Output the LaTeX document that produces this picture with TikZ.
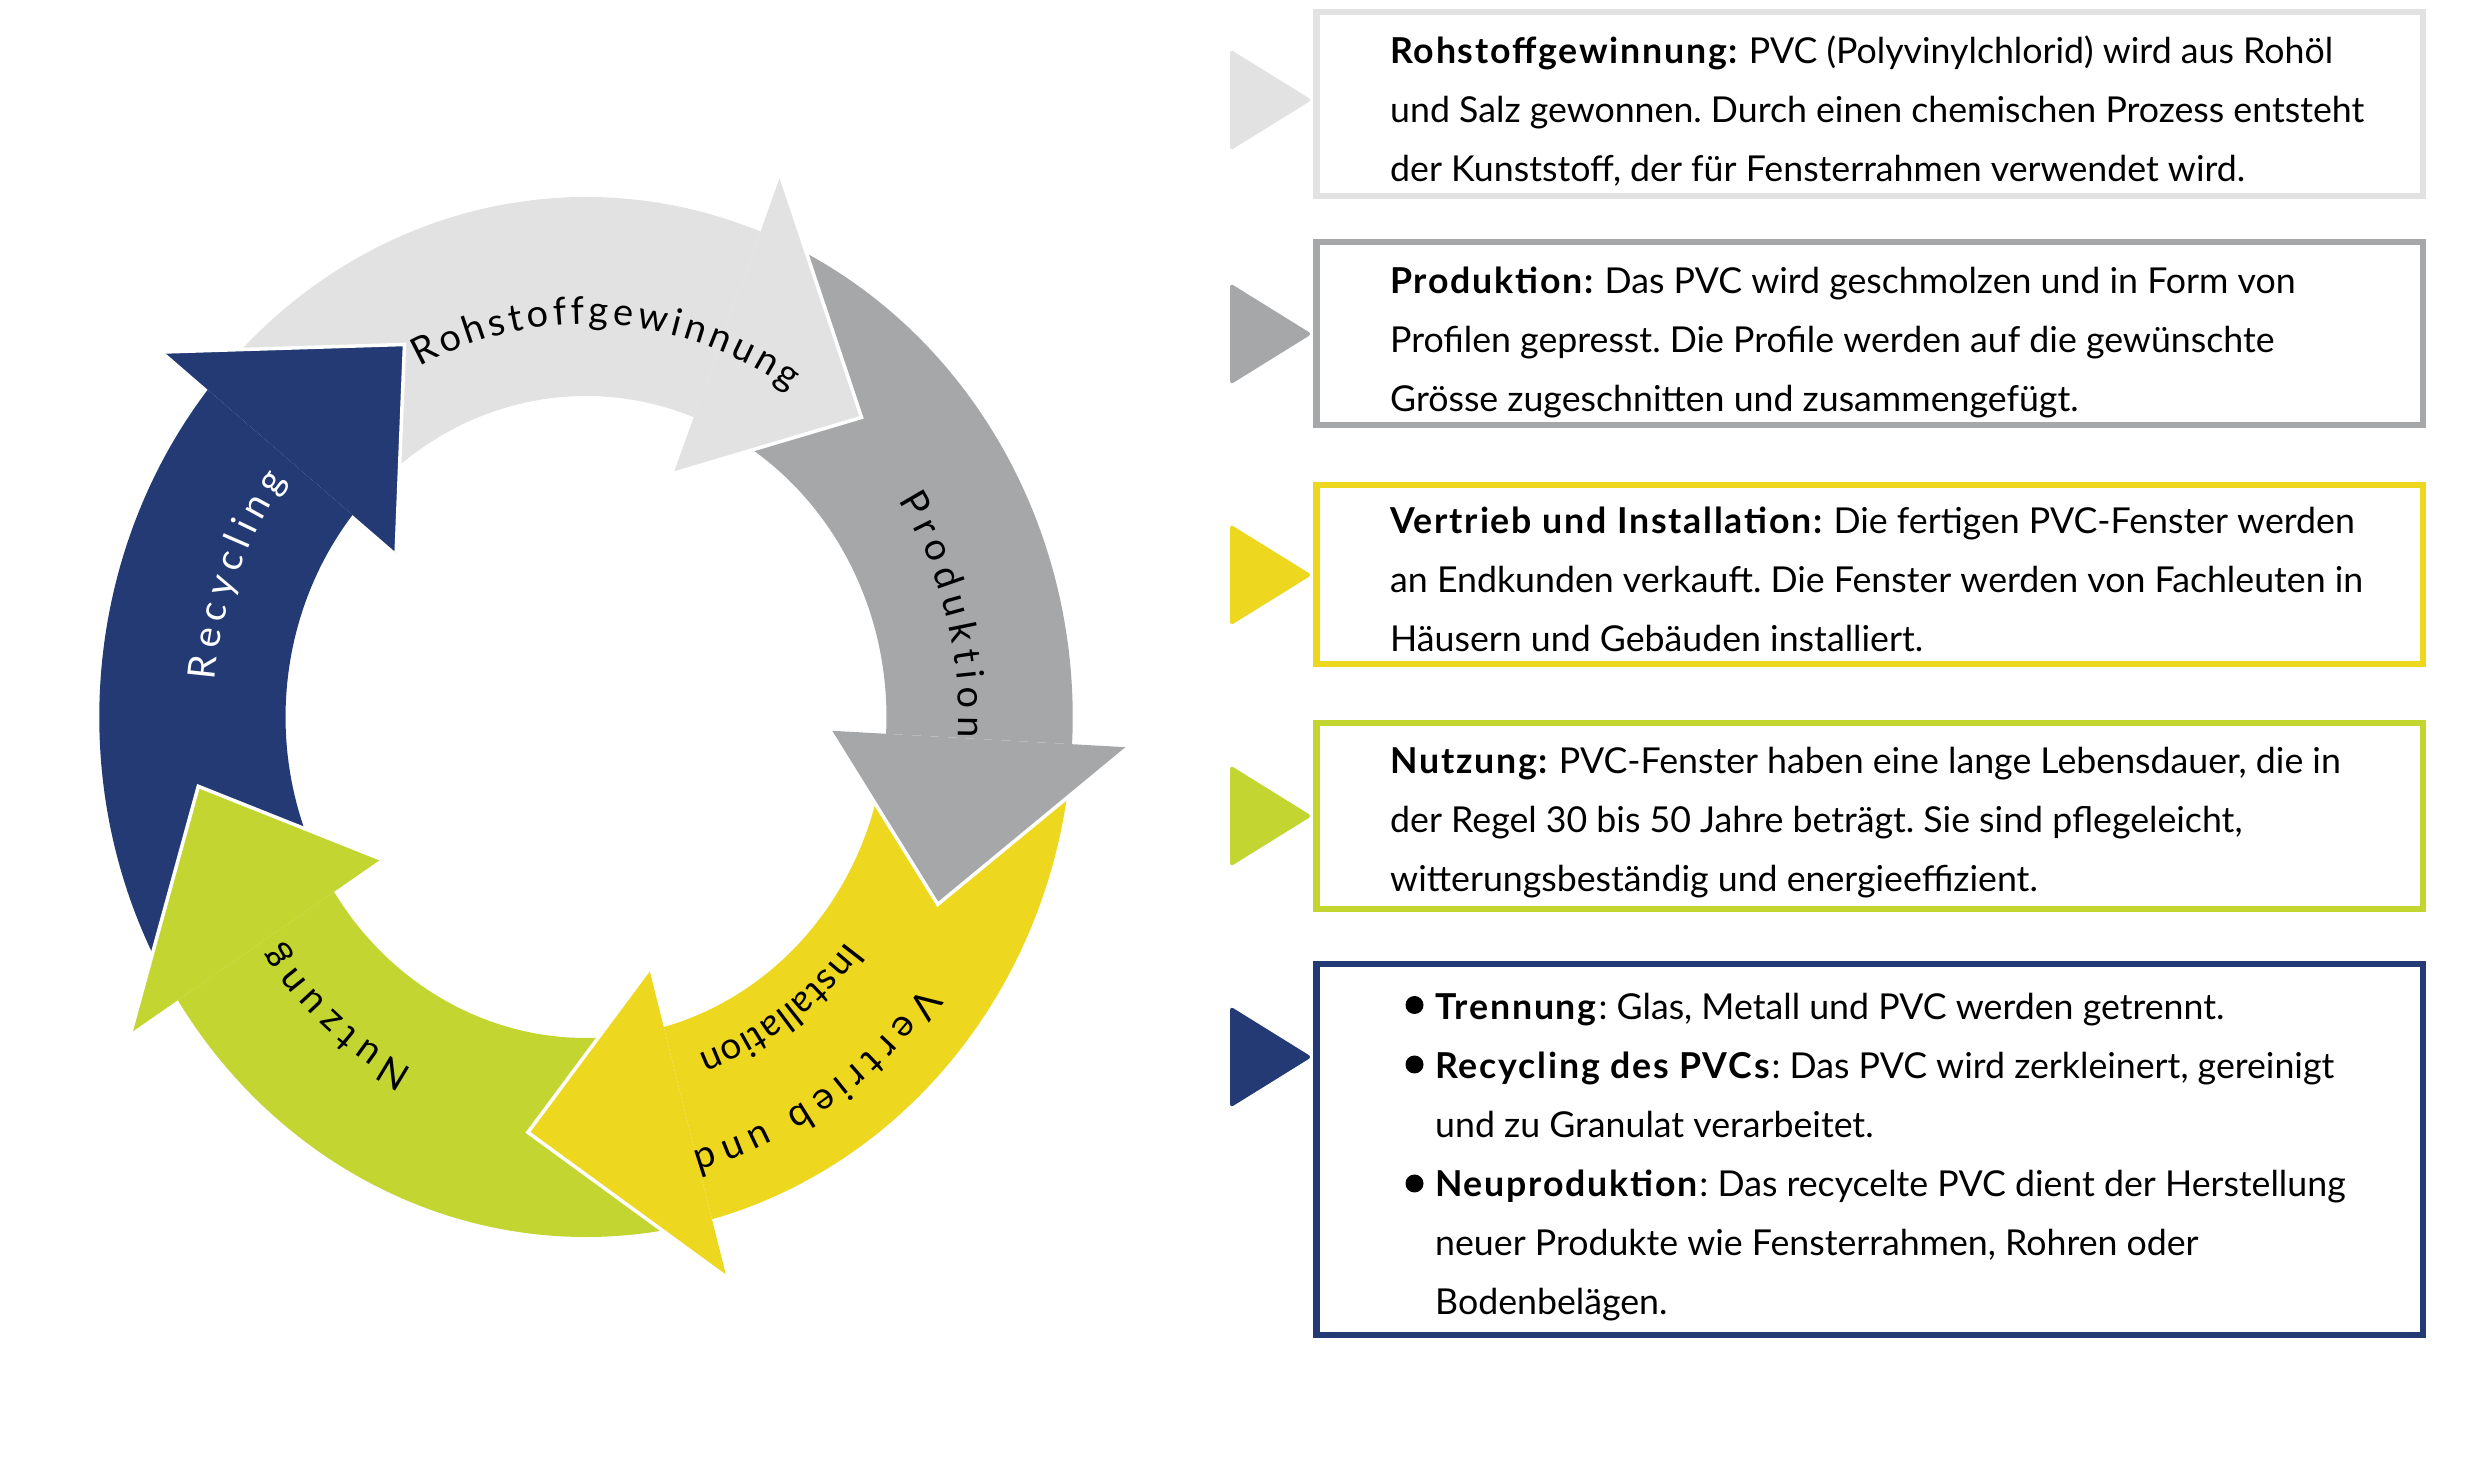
\documentclass[tikz,border=0pt]{standalone}
\usepackage{fontspec}
\setmainfont{Lato}[BoldFeatures={LetterSpace=5}]
\newfontfamily\plainlblfont{Lato}
\usetikzlibrary{decorations.text}
\definecolor{cLight}{HTML}{E2E2E2}
\definecolor{cGray}{HTML}{A6A7A9}
\definecolor{cYellow}{HTML}{EDD71F}
\definecolor{cLime}{HTML}{C2D531}
\definecolor{cNavy}{HTML}{233A75}
\newcommand{\Rin}{321}
\newcommand{\Rout}{520}
\newcommand{\Bin}{261}
\newcommand{\Bout}{580}
\newcommand{\Rtip}{420}
\newcommand{\XS}{0.936}
\tikzset{
  boxframe/.style={draw=#1, line width=6.5pt, fill=white, inner sep=0pt},
  boxtext/.style={anchor=north west, inner sep=0pt, align=left, font=\fontsize{35.7}{59}\selectfont\frenchspacing},
  pointer/.style={fill=#1, draw=#1, line width=2pt, rounded corners=2pt, line join=round},
  headline/.style={draw=white, line width=3.5pt, line join=miter},
}
\newcommand{\cycshaft}[3]{%
  \fill[#1] (#2:\Rout) arc[start angle=#2, end angle=#3, radius=\Rout] -- (#3:\Rin) arc[start angle=#3, end angle=#2, radius=\Rin] -- cycle;}
\newcommand{\cychead}[3]{%
  \fill[#1] (#2:\Bout) -- (#3:\Rtip) -- (#2:\Bin) -- cycle;
  \draw[headline] (#2:\Bout) -- (#3:\Rtip) -- (#2:\Bin);}
\newcommand{\cyclabel}[4]{%
  \path[decorate, decoration={text along path, text align=center, #1, text={#4}}]
    ({\XS*#3*cos(#2+50)},{#3*sin(#2+50)}) arc[start angle={#2+50}, end angle={#2-50}, x radius={\XS*#3}, y radius=#3];}
\newcommand{\lbl}{\plainlblfont\fontsize{38}{38}\selectfont}
\newcommand{\lblsmall}{\plainlblfont\fontsize{37}{37}\selectfont}
\begin{document}
\begin{tikzpicture}[x=1pt,y=1pt]
\useasboundingbox (0,0) rectangle (2480,1464);
% ---------- cycle ----------
\begin{scope}[shift={(586,747)}]
  \begin{scope}[xscale=\XS]
    \cycshaft{cLight}{135}{69}
    \cycshaft{cGray}{63}{-3}
    \cycshaft{cYellow}{-9}{-75}
    \cycshaft{cLime}{279}{213}
    \cycshaft{cNavy}{207}{141}
    \cychead{cLight}{69}{45.5}
    \cychead{cGray}{-3}{-26.5}
    \cychead{cYellow}{-75}{-98.5}
    \cychead{cLime}{213}{189.5}
    \cychead{cNavy}{141}{117.5}
  \end{scope}
  \cyclabel{}{87}{393}{|\lbl\kern4pt|Rohstoffgewinnung}
  \cyclabel{}{16}{398}{|\lbl\kern7pt|Produktion}
  \cyclabel{}{-56.5}{449}{|\lbl\kern7pt|Vertrieb und}
  \cyclabel{}{-55.5}{358}{|\lblsmall\kern1pt|Installation}
  \cyclabel{}{230}{398}{|\lbl\kern7pt|Nutzung}
  \cyclabel{text color=white}{159}{398}{|\lbl\kern7pt|Recycling}
\end{scope}
% ---------- pointers ----------
\fill[pointer=cLight] (1231,1413) -- (1310,1364) -- (1231,1315) -- cycle;
\fill[pointer=cGray] (1231,1179) -- (1310,1130) -- (1231,1081) -- cycle;
\fill[pointer=cYellow] (1231,938) -- (1310,889) -- (1231,840) -- cycle;
\fill[pointer=cLime] (1231,697) -- (1310,648) -- (1231,599) -- cycle;
\fill[pointer=cNavy] (1231,456) -- (1310,407) -- (1231,358) -- cycle;
% ---------- boxes ----------
\node[boxframe=cLight, minimum width=1106.5pt, minimum height=184pt] (b1) at (1869.75,1360) {};
\node[boxframe=cGray, minimum width=1106.5pt, minimum height=183pt] (b2) at (1869.75,1130.5) {};
\node[boxframe=cYellow, minimum width=1106.5pt, minimum height=179pt] (b3) at (1869.75,889.5) {};
\node[boxframe=cLime, minimum width=1106.5pt, minimum height=186pt] (b4) at (1869.75,648) {};
\node[boxframe=cNavy, minimum width=1106.5pt, minimum height=371pt] (b5) at (1869.75,314.5) {};
% ---------- texts ----------
\node[boxtext] (t1) at (1390,1442.3) {\strut\textbf{Rohstoffgewinnung:} PVC (Polyvinylchlorid) wird aus Rohöl\\
und Salz gewonnen. Durch einen chemischen Prozess entsteht\\
der Kunststoff, der für Fensterrahmen verwendet wird.};
\node[boxtext] (t2) at (1390,1212.3) {\strut\textbf{Produktion:} Das PVC wird geschmolzen und in Form von\\
Profilen gepresst. Die Profile werden auf die gewünschte\\
Grösse zugeschnitten und zusammengefügt.};
\node[boxtext] (t3) at (1390,972.3) {\strut\textbf{Vertrieb und Installation:} Die fertigen PVC-Fenster werden\\
an Endkunden verkauft. Die Fenster werden von Fachleuten in\\
Häusern und Gebäuden installiert.};
\node[boxtext] (t4) at (1390,732.3) {\strut\textbf{Nutzung:} PVC-Fenster haben eine lange Lebensdauer, die in\\
der Regel 30 bis 50 Jahre beträgt. Sie sind pflegeleicht,\\
witterungsbeständig und energieeffizient.};
\node[boxtext] (t5) at (1435,486.3) {\strut\textbf{Trennung}: Glas, Metall und PVC werden getrennt.\\
\textbf{Recycling des PVCs}: Das PVC wird zerkleinert, gereinigt\\
und zu Granulat verarbeitet.\\
\textbf{Neuproduktion}: Das recycelte PVC dient der Herstellung\\
neuer Produkte wie Fensterrahmen, Rohren oder\\
Bodenbelägen.};
\fill (1414.5,459) circle (9pt);
\fill (1414.5,399.5) circle (9pt);
\fill (1414.5,280.5) circle (9pt);
\end{tikzpicture}
\end{document}
